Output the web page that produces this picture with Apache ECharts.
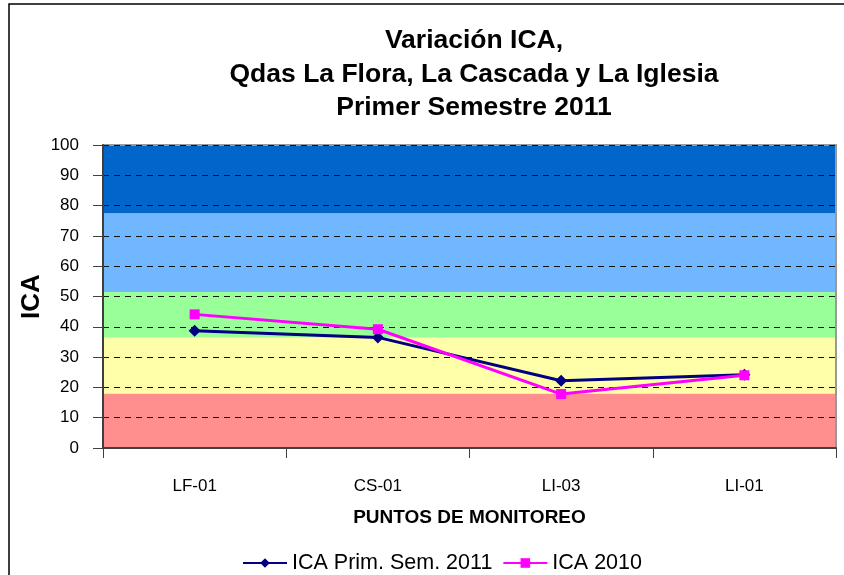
<!DOCTYPE html>
<html>
<head>
<meta charset="utf-8">
<script src="https://cdn.jsdelivr.net/npm/echarts@6/dist/echarts.min.js"></script>
<style>
  html, body { margin: 0; padding: 0; background: #fff; }
  #chart { width: 844px; height: 575px; }
</style>
</head>
<body>
<div id="chart"></div>
<script>
// puntos de monitoreo
const categories = ['LF-01', 'CS-01', 'LI-03', 'LI-01']
const ica2011 = [38.7, 36.5, 22.2, 24.2]
const ica2010 = [44.1, 39.2, 17.8, 24.0]

// franjas de calidad (limites en ICA) y sus colores
const bandEdges = [0, 18, 36.5, 51.5, 77.5, 100]
const bandColors = ['#FF8F8F', '#FFFFAA', '#99FF99', '#71B7FF', '#0066CC']

const titleLines = ['Variación ICA,', 'Qdas La Flora, La Cascada y La Iglesia', 'Primer Semestre 2011']

const font = '"Liberation Sans", Arial, sans-serif'

let bands = []
for (let i = 0; i < bandColors.length; i++) {
  bands.push([
    { yAxis: bandEdges[i], itemStyle: { color: bandColors[i], opacity: 1 } },
    { yAxis: bandEdges[i + 1] }
  ])
}

const chart = echarts.init(document.getElementById('chart'), null, { renderer: 'canvas' })

const option = {
  animation: false,
  backgroundColor: '#fff',
  textStyle: { fontFamily: font },
  title: {
    text: titleLines.join('\n'),
    left: 469,
    top: 19,
    textAlign: 'center',
    textStyle: { fontSize: 26.5, fontWeight: 'bold', color: '#000', lineHeight: 33.5, fontFamily: font }
  },
  legend: {
    top: 552,
    left: 242,
    padding: 0,
    itemWidth: 44,
    itemHeight: 12,
    itemGap: 10,
    textStyle: { fontSize: 21.5, color: '#000', fontFamily: font },
    data: ['ICA Prim. Sem. 2011', 'ICA 2010']
  },
  grid: {
    left: 103, right: 8, top: 145, bottom: 127,
    show: true, borderColor: '#999', borderWidth: 2
  },
  xAxis: {
    type: 'category',
    data: categories,
    boundaryGap: true,
    name: 'PUNTOS DE MONITOREO',
    nameLocation: 'middle',
    nameGap: 60,
    nameTextStyle: { fontSize: 19, fontWeight: 'bold', color: '#000', fontFamily: font },
    axisLine: { lineStyle: { color: '#404040', width: 2 } },
    axisTick: { show: true, alignWithLabel: false, length: 10, lineStyle: { color: '#404040', width: 1 } },
    axisLabel: { fontSize: 17, color: '#000', margin: 30 },
    splitLine: { show: false }
  },
  yAxis: {
    type: 'value',
    min: 0, max: 100, interval: 10,
    name: 'ICA',
    nameLocation: 'middle',
    nameGap: 58,
    nameMoveOverlap: false,
    nameRotate: 90,
    nameTextStyle: { fontSize: 26, fontWeight: 'bold', color: '#000', fontFamily: font },
    axisLine: { show: true, lineStyle: { color: '#404040', width: 2 } },
    axisTick: { show: true, inside: false, length: 10, lineStyle: { color: '#404040' } },
    axisLabel: { fontSize: 17, color: '#000', margin: 24 },
    splitLine: { show: true, lineStyle: { color: '#111', type: [6, 5], width: 1 } }
  },
  series: [
    {
      // solo las franjas de fondo, bajo las lineas de la grilla
      name: 'bandas',
      type: 'line',
      data: [],
      z: -1,
      silent: true,
      markArea: { silent: true, z: -1, data: bands }
    },
    {
      name: 'ICA Prim. Sem. 2011',
      type: 'line',
      data: ica2011,
      symbol: 'diamond',
      symbolSize: 12,
      color: '#000080',
      lineStyle: { width: 3, color: '#000080' },
      itemStyle: { color: '#000080' },
      z: 3
    },
    {
      name: 'ICA 2010',
      type: 'line',
      data: ica2010,
      symbol: 'rect',
      symbolSize: 10,
      color: '#FF00FF',
      lineStyle: { width: 3, color: '#FF00FF' },
      itemStyle: { color: '#FF00FF' },
      z: 4
    }
  ],
  graphic: [
    {
      type: 'rect',
      shape: { x: 9, y: 4, width: 900, height: 700 },
      style: { fill: 'none', stroke: '#000', lineWidth: 1.5 },
      silent: true
    }
  ]
}

chart.setOption(option)
</script>
</body>
</html>
